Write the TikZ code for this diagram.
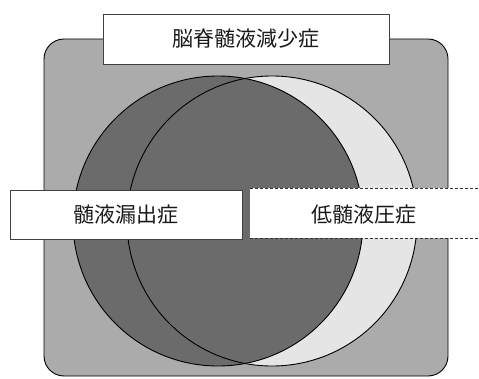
\documentclass[tikz,border=0pt]{standalone}
\usepackage{fontspec}
\newfontfamily\jpfont{Noto Sans CJK JP}
\begin{document}
\begin{tikzpicture}[x=1pt,y=-1pt,
  bgfill/.style={fill=black!33},
  darkfill/.style={fill=black!58},
  lightfill/.style={fill=black!10},
  outline/.style={draw=black,line width=0.9pt},
  labelbox/.style={fill=white,draw=black!75,line width=0.7pt},
  labeltext/.style={font=\jpfont\fontsize{21}{21}\selectfont,text=black!90}]
\useasboundingbox (0,0) rectangle (479,379);
% background panel
\path[bgfill,draw=black,line width=0.9pt,rounded corners=20pt] (44,39) rectangle (448,376);
% circles
\coordinate (ca) at (218,221);
\coordinate (cb) at (272,221);
\path[lightfill] (cb) circle[radius=145];
\path[darkfill] (ca) circle[radius=145];
\draw[outline] (cb) circle[radius=145];
\draw[outline] (ca) circle[radius=145];
% top label
\node[labelbox,minimum width=286pt,minimum height=50pt,inner sep=0pt] (top) at (246,39) {};
\node[labeltext] (toptext) at (top.center) {脳脊髄液減少症};
% left label
\node[labelbox,minimum width=232pt,minimum height=49pt,inner sep=0pt] (left) at (126,214.5) {};
\node[labeltext] (lefttext) at (left.center) {髄液漏出症};
% right label (open to the right)
\path[fill=white] (250,188.5) rectangle (485,238.5);
\coordinate (rtl) at (250,188.5);
\coordinate (rtr) at (485,188.5);
\coordinate (rbl) at (250,238.5);
\coordinate (rbr) at (485,238.5);
\draw[black!80,line width=0.7pt,dash pattern=on 3pt off 2pt] (rtl) -- (rtr);
\draw[black!80,line width=0.7pt,dash pattern=on 3pt off 2pt] (rbl) -- (rbr);
\node[labeltext] (righttext) at (364,214.5) {低髄液圧症};
\end{tikzpicture}
\end{document}
